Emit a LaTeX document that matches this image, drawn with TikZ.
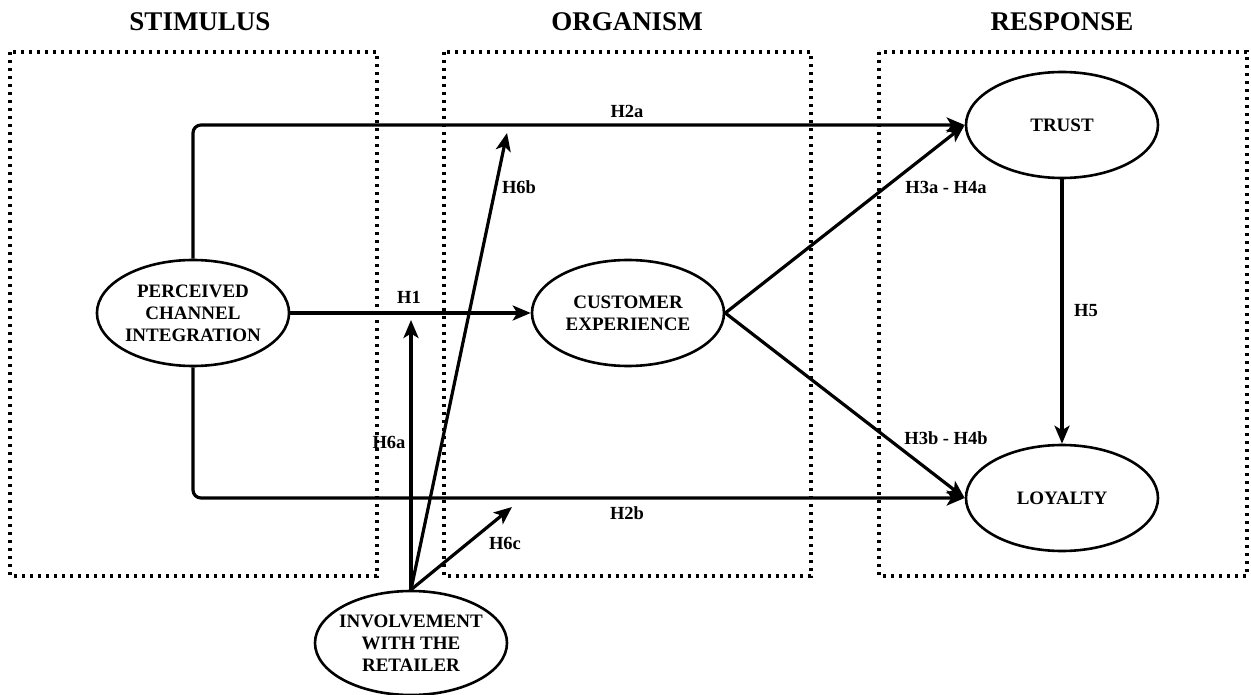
\documentclass[tikz,border=0pt]{standalone}
\usepackage{fontspec}
\setmainfont{Liberation Serif}
\usetikzlibrary{arrows.meta,shapes.geometric}
\begin{document}
\begin{tikzpicture}[x=1pt,y=-1pt,
  stage/.style={draw, line width=3.2pt, dash pattern=on 3.2pt off 4.8pt},
  construct/.style={draw, ellipse, line width=2.6pt, minimum width=192pt, minimum height=106pt,
    inner sep=0pt, align=center, font=\bfseries\fontsize{19}{22}\selectfont},
  title/.style={font=\bfseries\fontsize{27}{30}\selectfont},
  hyp/.style={font=\bfseries\fontsize{18.5}{20}\selectfont, inner sep=1pt},
  link/.style={line width=3.2pt, -{Stealth[length=18pt,width=15pt,inset=4.5pt]}}
]
\useasboundingbox (0,0) rectangle (1251,695);

% S-O-R stages
\draw[stage] (10,52) rectangle (377,576);
\draw[stage] (444,52) rectangle (811,576);
\draw[stage] (879,52) rectangle (1247,576);
\node[title] (tS) at (200,22) {STIMULUS};
\node[title] (tO) at (627,22) {ORGANISM};
\node[title] (tR) at (1062,22) {RESPONSE};

% constructs
\node[construct] (pci) at (193,313) {PERCEIVED\\CHANNEL\\INTEGRATION};
\node[construct] (cx) at (628,313) {CUSTOMER\\EXPERIENCE};
\node[construct] (trust) at (1062,125) {TRUST};
\node[construct] (loy) at (1062,498) {LOYALTY};
\node[construct, minimum height=104pt, inner xsep=-5pt] (inv) at (411,643) {INVOLVEMENT\\WITH THE\\RETAILER};

% free ends of the moderating paths
\coordinate (m6a) at (411,320);
\coordinate (m6b) at (507,133);
\coordinate (m6c) at (512,507);

% hypothesised paths
\draw[link, rounded corners=8pt] (pci.north) |- (trust.west);
\draw[link, rounded corners=8pt] (pci.south) |- (loy.west);
\draw[link] (pci.east) -- (cx.west);
\draw[link] (cx.east) -- (trust.west);
\draw[link] (cx.east) -- (loy.west);
\draw[link] (trust.south) -- (loy.north);
\draw[link] (inv.north) -- (m6a);
\draw[link] (inv.north) -- (m6b);
\draw[link] (inv.north) -- (m6c);

% path labels
\node[hyp] (h2a) at (627,111) {H2a};
\node[hyp] (h2b) at (627,513) {H2b};
\node[hyp] (h1) at (409,297) {H1};
\node[hyp] (h34a) at (946,187) {H3a - H4a};
\node[hyp] (h34b) at (946,438) {H3b - H4b};
\node[hyp] (h5) at (1086,311) {H5};
\node[hyp] (h6a) at (389,442) {H6a};
\node[hyp] (h6b) at (519,187) {H6b};
\node[hyp] (h6c) at (505,543) {H6c};
\end{tikzpicture}
\end{document}
